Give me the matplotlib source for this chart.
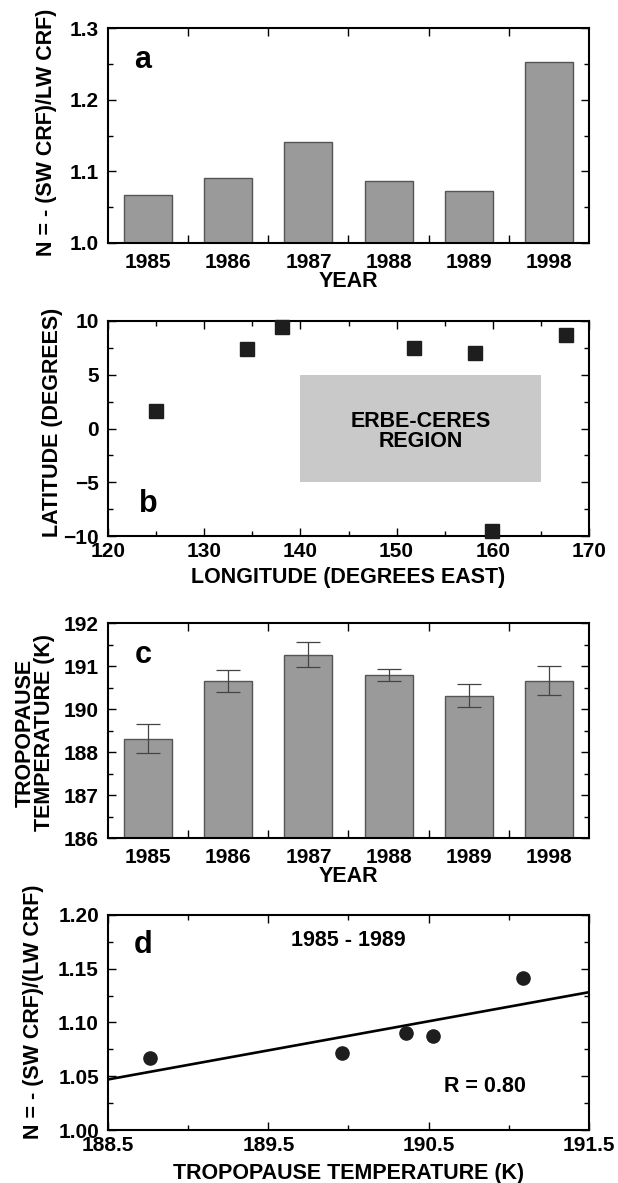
import numpy as np
import matplotlib
matplotlib.use("Agg")
import matplotlib.pyplot as plt
from matplotlib.patches import Rectangle
from matplotlib.ticker import MultipleLocator, FixedLocator, FormatStrFormatter

plt.rcParams['font.family'] = ['Liberation Sans', 'DejaVu Sans']
plt.rcParams['font.weight'] = 'bold'
plt.rcParams['axes.labelweight'] = 'bold'

# --- data ---
years = ['1985', '1986', '1987', '1988', '1989', '1998']
n_ratio = [1.067, 1.090, 1.141, 1.087, 1.072, 1.253]

lon = [125.0, 134.5, 138.1, 151.8, 158.2, 159.9, 167.6]
lat = [1.6, 7.4, 9.4, 7.5, 7.0, -9.5, 8.7]
region_lon = [140, 165]
region_lat = [-5, 5]

# panel c: the tick labels of the original skip 189, so values are in tick units
tropo_temp = [188.31, 189.65, 190.26, 189.79, 189.31, 189.66]
tropo_err = [0.34, 0.26, 0.29, 0.14, 0.26, 0.33]
c_ticks = [186, 187, 188, 189, 190, 191]
c_tick_labels = ['186', '187', '188', '190', '191', '192']

# panel d: 1985-1989 tropopause temperature vs N
d_temp = [188.76, 190.36, 191.09, 190.53, 189.96]
d_n = n_ratio[:5]

BAR = '#9a9a9a'
EDGE = '#555555'
FS = 15      # tick labels
LFS = 15.5   # axis labels / annotations

fig = plt.figure(figsize=(6.18, 11.83), dpi=100)
L, W, H = 108 / 618, 481 / 618, 215 / 1183
tops = [28, 321, 623, 915]
axes = [fig.add_axes([L, 1 - (t + 215) / 1183, W, H]) for t in tops]


def style(ax):
    for s in ax.spines.values():
        s.set_linewidth(1.5)
    ax.tick_params(which='both', direction='in', top=True, right=True,
                   width=1, labelsize=FS)
    ax.tick_params(which='major', length=6)
    ax.tick_params(which='minor', length=3.6)
    ax.tick_params(axis='x', which='major', pad=4.5)
    ax.tick_params(axis='y', which='major', pad=6.5)


def year_axis(ax):
    x = np.arange(len(years))
    ax.set_xlim(-0.5, len(years) - 0.5)
    ax.set_xticks(x)
    ax.set_xticklabels(years)
    ax.xaxis.set_minor_locator(FixedLocator(x[:-1] + 0.5))
    ax.tick_params(axis='x', which='major', length=0, pad=7)
    ax.tick_params(axis='x', which='minor', length=6)
    return x


# --- a ---
ax = axes[0]
style(ax)
x = year_axis(ax)
ax.bar(x, np.array(n_ratio) - 1.0, bottom=1.0, width=0.6, color=BAR,
       edgecolor=EDGE, linewidth=1)
ax.set_ylim(1.0, 1.3)
ax.yaxis.set_major_locator(MultipleLocator(0.1))
ax.yaxis.set_minor_locator(MultipleLocator(0.05))
ax.yaxis.set_major_formatter(FormatStrFormatter('%.1f'))
ax.set_xlabel('YEAR', fontsize=LFS, va='center')
ax.xaxis.set_label_coords(0.5, -0.181)
ax.set_ylabel('N = - (SW CRF)/LW CRF)', fontsize=LFS, va='center')
ax.yaxis.set_label_coords(-0.127, 0.514)
ax.text(0.073, 0.85, 'a', transform=ax.transAxes, fontsize=22,
        ha='center', va='center')

# --- b ---
ax = axes[1]
style(ax)
ax.add_patch(Rectangle((region_lon[0], region_lat[0]),
                       region_lon[1] - region_lon[0],
                       region_lat[1] - region_lat[0],
                       facecolor='#c9c9c9', edgecolor='none', zorder=1))
ax.text(np.mean(region_lon), np.mean(region_lat) - 0.3, 'ERBE-CERES\nREGION',
        fontsize=LFS, ha='center', va='center', linespacing=0.95, zorder=2)
ax.plot(lon, lat, 's', color='#1e1e1e', markersize=9.5, clip_on=False,
        zorder=3)
ax.set_xlim(120, 170)
ax.set_ylim(-10, 10)
ax.xaxis.set_major_locator(MultipleLocator(10))
ax.xaxis.set_minor_locator(MultipleLocator(5))
ax.yaxis.set_major_locator(MultipleLocator(5))
ax.yaxis.set_minor_locator(MultipleLocator(2.5))
ax.set_xlabel('LONGITUDE (DEGREES EAST)', fontsize=LFS, va='center')
ax.xaxis.set_label_coords(0.5, -0.195)
ax.set_ylabel('LATITUDE (DEGREES)', fontsize=LFS, va='center')
ax.yaxis.set_label_coords(-0.116, 0.53)
ax.text(0.083, 0.15, 'b', transform=ax.transAxes, fontsize=22,
        ha='center', va='center')

# --- c ---
ax = axes[2]
style(ax)
x = year_axis(ax)
ax.bar(x, np.array(tropo_temp) - 186, bottom=186, width=0.6, color=BAR,
       edgecolor=EDGE, linewidth=1)
ax.errorbar(x, tropo_temp, yerr=tropo_err, fmt='none', ecolor='#444444',
            elinewidth=0.9, capsize=8.3, capthick=0.9)
ax.set_ylim(186, 191)
ax.set_yticks(c_ticks)
ax.set_yticklabels(c_tick_labels)
ax.yaxis.set_minor_locator(MultipleLocator(0.5))
ax.set_xlabel('YEAR', fontsize=LFS, va='center')
ax.xaxis.set_label_coords(0.5, -0.181)
ax.set_ylabel('TROPOPAUSE\nTEMPERATURE (K)', fontsize=LFS, va='center',
              linespacing=0.95)
ax.yaxis.set_label_coords(-0.152, 0.49)
ax.text(0.073, 0.85, 'c', transform=ax.transAxes, fontsize=22,
        ha='center', va='center')

# --- d ---
ax = axes[3]
style(ax)
ax.plot(d_temp, d_n, 'o', color='#1e1e1e', markersize=9.5, zorder=3)
slope, icpt = np.polyfit(d_temp, d_n, 1)
xl = np.array([188.5, 191.5])
ax.plot(xl, slope * xl + icpt, color='black', linewidth=1.9)
ax.set_xlim(188.5, 191.5)
ax.set_ylim(1.0, 1.2)
ax.set_xticks([188.5, 189.5, 190.5, 191.5])
ax.xaxis.set_minor_locator(FixedLocator([189.0, 190.0, 191.0]))
ax.yaxis.set_major_locator(MultipleLocator(0.05))
ax.yaxis.set_minor_locator(MultipleLocator(0.025))
ax.yaxis.set_major_formatter(FormatStrFormatter('%.2f'))
ax.set_xlabel('TROPOPAUSE TEMPERATURE (K)', fontsize=LFS, va='center')
ax.xaxis.set_label_coords(0.5, -0.2)
ax.set_ylabel('N = - (SW CRF)/(LW CRF)', fontsize=LFS, va='center')
ax.yaxis.set_label_coords(-0.154, 0.549)
ax.text(0.073, 0.86, 'd', transform=ax.transAxes, fontsize=22,
        ha='center', va='center')
ax.text(0.50, 0.88, '1985 - 1989', transform=ax.transAxes, fontsize=LFS,
        ha='center', va='center')
ax.text(0.784, 0.20, 'R = 0.80', transform=ax.transAxes, fontsize=LFS,
        ha='center', va='center')

fig.savefig('out.png', dpi=100)
